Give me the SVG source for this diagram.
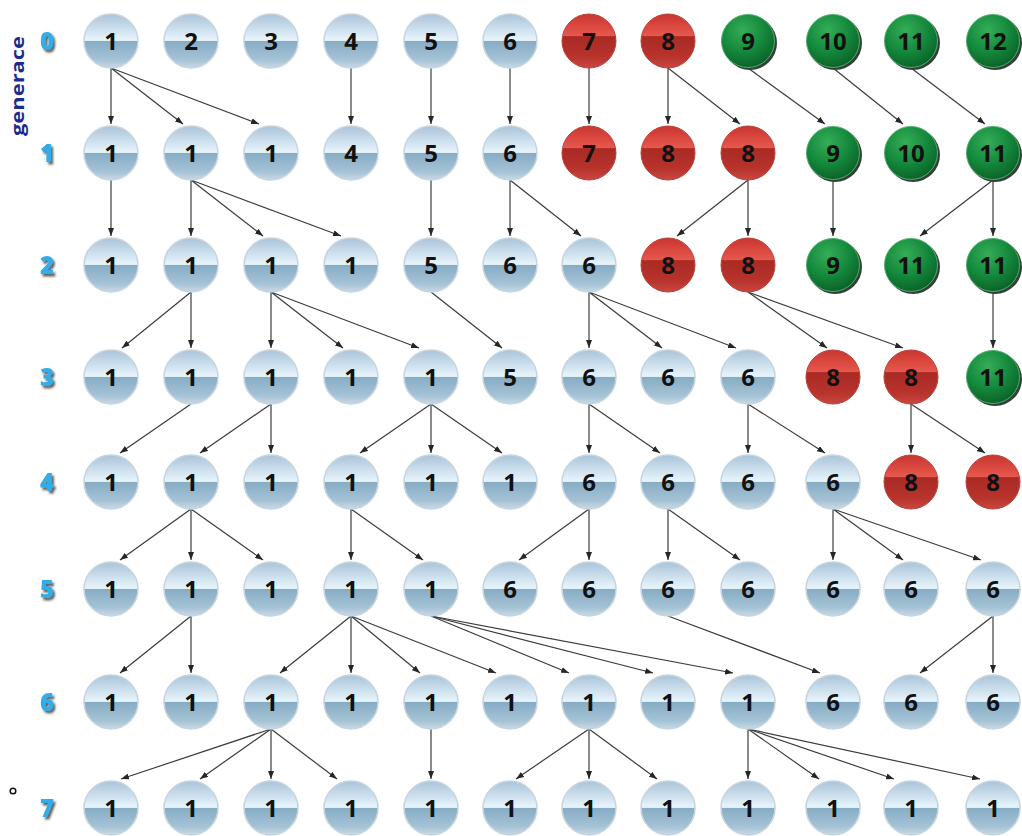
<svg xmlns="http://www.w3.org/2000/svg" width="1022" height="836" viewBox="0 0 1022 836">
<defs>
<linearGradient id="gb" x1="0" y1="0" x2="0" y2="1">
<stop offset="0" stop-color="#a9c3d7"/><stop offset="0.2" stop-color="#c3d8e8"/><stop offset="0.47" stop-color="#e6f3fb"/><stop offset="0.5" stop-color="#dcecf6"/><stop offset="0.5" stop-color="#86acc4"/><stop offset="0.85" stop-color="#a6c3d6"/><stop offset="1" stop-color="#c9dae6"/>
</linearGradient>
<linearGradient id="gr" x1="0" y1="0" x2="0" y2="1">
<stop offset="0" stop-color="#c7362f"/><stop offset="0.25" stop-color="#dc4a42"/><stop offset="0.4" stop-color="#e6584d"/><stop offset="0.42" stop-color="#a92a24"/><stop offset="0.8" stop-color="#b8342d"/><stop offset="1" stop-color="#c84840"/>
</linearGradient>
<radialGradient id="gg" cx="0.4" cy="0.3" r="0.75">
<stop offset="0" stop-color="#35ad58"/><stop offset="0.55" stop-color="#14883c"/><stop offset="1" stop-color="#0a5e27"/>
</radialGradient>
<filter id="sh" x="-30%" y="-30%" width="170%" height="170%"><feDropShadow dx="2" dy="2.5" stdDeviation="1.2" flood-color="#2a2a2a" flood-opacity="0.75"/></filter>
<marker id="ah" viewBox="0 0 8 6" refX="8" refY="3" markerWidth="8" markerHeight="6" orient="auto" markerUnits="userSpaceOnUse"><path d="M0,0 L8,3 L0,6 z" fill="#262626"/></marker>
</defs>
<style>
.b{fill:url(#gb);stroke:#c6d4de;stroke-width:1.5}
.r{fill:url(#gr);stroke:#b8423b;stroke-width:1}
.g{fill:url(#gg);stroke:#4fae6c;stroke-width:1}
.gs{fill:#33403a}
.t{font-family:"Open Sans","Liberation Sans",sans-serif;font-weight:700;font-size:24px;text-anchor:middle;fill:#111}
.lab{font-family:"Open Sans","Liberation Sans",sans-serif;font-weight:800;font-size:24px;text-anchor:middle;fill:#32ade6;filter:url(#sh)}
.e line{stroke:#3c3c3c;stroke-width:1.2;marker-end:url(#ah)}
</style>
<rect width="1022" height="836" fill="#ffffff"/>
<text x="24" y="86" transform="rotate(-90 24 86)" font-family="'Open Sans','Liberation Sans',sans-serif" font-weight="700" font-size="17" fill="#1f2a8c" text-anchor="middle" textLength="100" lengthAdjust="spacingAndGlyphs">generace</text>
<circle cx="13" cy="791" r="2.8" fill="none" stroke="#111" stroke-width="1.5"/>
<g id="labels">
<text class="lab" x="47" y="50">0</text>
<text class="lab" x="47" y="162">1</text>
<text class="lab" x="47" y="274">2</text>
<text class="lab" x="47" y="386">3</text>
<text class="lab" x="47" y="491">4</text>
<text class="lab" x="47" y="598">5</text>
<text class="lab" x="47" y="711">6</text>
<text class="lab" x="47" y="817">7</text>
</g>
<g id="connectors" class="e">
<line x1="111" y1="68" x2="111" y2="124"/><line x1="111" y1="68" x2="183" y2="124"/><line x1="111" y1="68" x2="259" y2="124"/>
<line x1="351" y1="68" x2="351" y2="124"/><line x1="431" y1="68" x2="431" y2="124"/><line x1="510" y1="68" x2="510" y2="124"/>
<line x1="589" y1="68" x2="589" y2="124"/><line x1="668" y1="68" x2="668" y2="124"/><line x1="668" y1="68" x2="740" y2="124"/>
<line x1="748" y1="68" x2="825" y2="124"/><line x1="833" y1="68" x2="903" y2="124"/><line x1="911" y1="68" x2="985" y2="124"/>
<line x1="111" y1="180" x2="111" y2="236"/><line x1="191" y1="180" x2="191" y2="236"/><line x1="191" y1="180" x2="263" y2="236"/><line x1="191" y1="180" x2="341" y2="236"/>
<line x1="431" y1="180" x2="431" y2="236"/><line x1="510" y1="180" x2="510" y2="236"/><line x1="510" y1="180" x2="581" y2="236"/>
<line x1="748" y1="180" x2="677" y2="236"/><line x1="748" y1="180" x2="748" y2="236"/><line x1="833" y1="180" x2="833" y2="236"/>
<line x1="993" y1="180" x2="920" y2="236"/><line x1="993" y1="180" x2="993" y2="236"/>
<line x1="191" y1="292" x2="122" y2="348"/><line x1="191" y1="292" x2="191" y2="348"/>
<line x1="271" y1="292" x2="271" y2="348"/><line x1="271" y1="292" x2="343" y2="348"/><line x1="271" y1="292" x2="419" y2="348"/>
<line x1="431" y1="292" x2="502" y2="348"/>
<line x1="589" y1="292" x2="589" y2="348"/><line x1="589" y1="292" x2="662" y2="348"/><line x1="589" y1="292" x2="736" y2="348"/>
<line x1="748" y1="292" x2="827" y2="348"/><line x1="748" y1="292" x2="903" y2="348"/><line x1="993" y1="292" x2="993" y2="348"/>
<line x1="191" y1="404" x2="120" y2="453"/><line x1="271" y1="404" x2="200" y2="453"/><line x1="271" y1="404" x2="271" y2="453"/>
<line x1="431" y1="404" x2="360" y2="453"/><line x1="431" y1="404" x2="431" y2="453"/><line x1="431" y1="404" x2="502" y2="453"/>
<line x1="589" y1="404" x2="589" y2="453"/><line x1="589" y1="404" x2="660" y2="453"/>
<line x1="748" y1="404" x2="748" y2="453"/><line x1="748" y1="404" x2="825" y2="453"/>
<line x1="911" y1="404" x2="911" y2="453"/><line x1="911" y1="404" x2="985" y2="453"/>
<line x1="191" y1="509" x2="120" y2="560"/><line x1="191" y1="509" x2="191" y2="560"/><line x1="191" y1="509" x2="263" y2="560"/>
<line x1="351" y1="509" x2="351" y2="560"/><line x1="351" y1="509" x2="423" y2="560"/>
<line x1="589" y1="509" x2="519" y2="560"/><line x1="589" y1="509" x2="589" y2="560"/>
<line x1="668" y1="509" x2="668" y2="560"/><line x1="668" y1="509" x2="740" y2="560"/>
<line x1="833" y1="509" x2="833" y2="560"/><line x1="833" y1="509" x2="903" y2="560"/><line x1="833" y1="509" x2="981" y2="560"/>
<line x1="191" y1="616" x2="120" y2="673"/><line x1="191" y1="616" x2="191" y2="673"/>
<line x1="351" y1="616" x2="280" y2="673"/><line x1="351" y1="616" x2="351" y2="673"/><line x1="351" y1="616" x2="420" y2="673"/><line x1="351" y1="616" x2="496" y2="673"/>
<line x1="431" y1="616" x2="569" y2="673"/><line x1="431" y1="616" x2="653" y2="673"/><line x1="431" y1="616" x2="733" y2="673"/>
<line x1="668" y1="616" x2="820" y2="673"/>
<line x1="993" y1="616" x2="920" y2="673"/><line x1="993" y1="616" x2="993" y2="673"/>
<line x1="271" y1="729" x2="121" y2="779"/><line x1="271" y1="729" x2="200" y2="779"/><line x1="271" y1="729" x2="271" y2="779"/><line x1="271" y1="729" x2="337" y2="779"/>
<line x1="431" y1="729" x2="431" y2="779"/>
<line x1="589" y1="729" x2="516" y2="779"/><line x1="589" y1="729" x2="589" y2="779"/><line x1="589" y1="729" x2="657" y2="779"/>
<line x1="748" y1="729" x2="748" y2="779"/><line x1="748" y1="729" x2="819" y2="779"/><line x1="748" y1="729" x2="894" y2="779"/><line x1="748" y1="729" x2="980" y2="779"/>
</g>
<g id="nodes">
<g id="n0_0" transform="translate(111,41)"><circle class="b" r="27"/><text class="t" y="8.5">1</text></g>
<g id="n0_1" transform="translate(191,41)"><circle class="b" r="27"/><text class="t" y="8.5">2</text></g>
<g id="n0_2" transform="translate(271,41)"><circle class="b" r="27"/><text class="t" y="8.5">3</text></g>
<g id="n0_3" transform="translate(351,41)"><circle class="b" r="27"/><text class="t" y="8.5">4</text></g>
<g id="n0_4" transform="translate(431,41)"><circle class="b" r="27"/><text class="t" y="8.5">5</text></g>
<g id="n0_5" transform="translate(510,41)"><circle class="b" r="27"/><text class="t" y="8.5">6</text></g>
<g id="n0_6" transform="translate(589,41)"><circle class="r" r="27"/><text class="t" y="8.5">7</text></g>
<g id="n0_7" transform="translate(668,41)"><circle class="r" r="27"/><text class="t" y="8.5">8</text></g>
<g id="n0_8" transform="translate(748,41)"><circle class="gs" cx="2" cy="2" r="27"/><circle class="g" r="26.5"/><text class="t" y="8.5">9</text></g>
<g id="n0_9" transform="translate(833,41)"><circle class="gs" cx="2" cy="2" r="27"/><circle class="g" r="26.5"/><text class="t" y="8.5">10</text></g>
<g id="n0_10" transform="translate(911,41)"><circle class="gs" cx="2" cy="2" r="27"/><circle class="g" r="26.5"/><text class="t" y="8.5">11</text></g>
<g id="n0_11" transform="translate(993,41)"><circle class="gs" cx="2" cy="2" r="27"/><circle class="g" r="26.5"/><text class="t" y="8.5">12</text></g>

<g id="n1_0" transform="translate(111,153)"><circle class="b" r="27"/><text class="t" y="8.5">1</text></g>
<g id="n1_1" transform="translate(191,153)"><circle class="b" r="27"/><text class="t" y="8.5">1</text></g>
<g id="n1_2" transform="translate(271,153)"><circle class="b" r="27"/><text class="t" y="8.5">1</text></g>
<g id="n1_3" transform="translate(351,153)"><circle class="b" r="27"/><text class="t" y="8.5">4</text></g>
<g id="n1_4" transform="translate(431,153)"><circle class="b" r="27"/><text class="t" y="8.5">5</text></g>
<g id="n1_5" transform="translate(510,153)"><circle class="b" r="27"/><text class="t" y="8.5">6</text></g>
<g id="n1_6" transform="translate(589,153)"><circle class="r" r="27"/><text class="t" y="8.5">7</text></g>
<g id="n1_7" transform="translate(668,153)"><circle class="r" r="27"/><text class="t" y="8.5">8</text></g>
<g id="n1_8" transform="translate(748,153)"><circle class="r" r="27"/><text class="t" y="8.5">8</text></g>
<g id="n1_9" transform="translate(833,153)"><circle class="gs" cx="2" cy="2" r="27"/><circle class="g" r="26.5"/><text class="t" y="8.5">9</text></g>
<g id="n1_10" transform="translate(911,153)"><circle class="gs" cx="2" cy="2" r="27"/><circle class="g" r="26.5"/><text class="t" y="8.5">10</text></g>
<g id="n1_11" transform="translate(993,153)"><circle class="gs" cx="2" cy="2" r="27"/><circle class="g" r="26.5"/><text class="t" y="8.5">11</text></g>

<g id="n2_0" transform="translate(111,265)"><circle class="b" r="27"/><text class="t" y="8.5">1</text></g>
<g id="n2_1" transform="translate(191,265)"><circle class="b" r="27"/><text class="t" y="8.5">1</text></g>
<g id="n2_2" transform="translate(271,265)"><circle class="b" r="27"/><text class="t" y="8.5">1</text></g>
<g id="n2_3" transform="translate(351,265)"><circle class="b" r="27"/><text class="t" y="8.5">1</text></g>
<g id="n2_4" transform="translate(431,265)"><circle class="b" r="27"/><text class="t" y="8.5">5</text></g>
<g id="n2_5" transform="translate(510,265)"><circle class="b" r="27"/><text class="t" y="8.5">6</text></g>
<g id="n2_6" transform="translate(589,265)"><circle class="b" r="27"/><text class="t" y="8.5">6</text></g>
<g id="n2_7" transform="translate(668,265)"><circle class="r" r="27"/><text class="t" y="8.5">8</text></g>
<g id="n2_8" transform="translate(748,265)"><circle class="r" r="27"/><text class="t" y="8.5">8</text></g>
<g id="n2_9" transform="translate(833,265)"><circle class="gs" cx="2" cy="2" r="27"/><circle class="g" r="26.5"/><text class="t" y="8.5">9</text></g>
<g id="n2_10" transform="translate(911,265)"><circle class="gs" cx="2" cy="2" r="27"/><circle class="g" r="26.5"/><text class="t" y="8.5">11</text></g>
<g id="n2_11" transform="translate(993,265)"><circle class="gs" cx="2" cy="2" r="27"/><circle class="g" r="26.5"/><text class="t" y="8.5">11</text></g>

<g id="n3_0" transform="translate(111,377)"><circle class="b" r="27"/><text class="t" y="8.5">1</text></g>
<g id="n3_1" transform="translate(191,377)"><circle class="b" r="27"/><text class="t" y="8.5">1</text></g>
<g id="n3_2" transform="translate(271,377)"><circle class="b" r="27"/><text class="t" y="8.5">1</text></g>
<g id="n3_3" transform="translate(351,377)"><circle class="b" r="27"/><text class="t" y="8.5">1</text></g>
<g id="n3_4" transform="translate(431,377)"><circle class="b" r="27"/><text class="t" y="8.5">1</text></g>
<g id="n3_5" transform="translate(510,377)"><circle class="b" r="27"/><text class="t" y="8.5">5</text></g>
<g id="n3_6" transform="translate(589,377)"><circle class="b" r="27"/><text class="t" y="8.5">6</text></g>
<g id="n3_7" transform="translate(668,377)"><circle class="b" r="27"/><text class="t" y="8.5">6</text></g>
<g id="n3_8" transform="translate(748,377)"><circle class="b" r="27"/><text class="t" y="8.5">6</text></g>
<g id="n3_9" transform="translate(833,377)"><circle class="r" r="27"/><text class="t" y="8.5">8</text></g>
<g id="n3_10" transform="translate(911,377)"><circle class="r" r="27"/><text class="t" y="8.5">8</text></g>
<g id="n3_11" transform="translate(993,377)"><circle class="gs" cx="2" cy="2" r="27"/><circle class="g" r="26.5"/><text class="t" y="8.5">11</text></g>

<g id="n4_0" transform="translate(111,482)"><circle class="b" r="27"/><text class="t" y="8.5">1</text></g>
<g id="n4_1" transform="translate(191,482)"><circle class="b" r="27"/><text class="t" y="8.5">1</text></g>
<g id="n4_2" transform="translate(271,482)"><circle class="b" r="27"/><text class="t" y="8.5">1</text></g>
<g id="n4_3" transform="translate(351,482)"><circle class="b" r="27"/><text class="t" y="8.5">1</text></g>
<g id="n4_4" transform="translate(431,482)"><circle class="b" r="27"/><text class="t" y="8.5">1</text></g>
<g id="n4_5" transform="translate(510,482)"><circle class="b" r="27"/><text class="t" y="8.5">1</text></g>
<g id="n4_6" transform="translate(589,482)"><circle class="b" r="27"/><text class="t" y="8.5">6</text></g>
<g id="n4_7" transform="translate(668,482)"><circle class="b" r="27"/><text class="t" y="8.5">6</text></g>
<g id="n4_8" transform="translate(748,482)"><circle class="b" r="27"/><text class="t" y="8.5">6</text></g>
<g id="n4_9" transform="translate(833,482)"><circle class="b" r="27"/><text class="t" y="8.5">6</text></g>
<g id="n4_10" transform="translate(911,482)"><circle class="r" r="27"/><text class="t" y="8.5">8</text></g>
<g id="n4_11" transform="translate(993,482)"><circle class="r" r="27"/><text class="t" y="8.5">8</text></g>

<g id="n5_0" transform="translate(111,589)"><circle class="b" r="27"/><text class="t" y="8.5">1</text></g>
<g id="n5_1" transform="translate(191,589)"><circle class="b" r="27"/><text class="t" y="8.5">1</text></g>
<g id="n5_2" transform="translate(271,589)"><circle class="b" r="27"/><text class="t" y="8.5">1</text></g>
<g id="n5_3" transform="translate(351,589)"><circle class="b" r="27"/><text class="t" y="8.5">1</text></g>
<g id="n5_4" transform="translate(431,589)"><circle class="b" r="27"/><text class="t" y="8.5">1</text></g>
<g id="n5_5" transform="translate(510,589)"><circle class="b" r="27"/><text class="t" y="8.5">6</text></g>
<g id="n5_6" transform="translate(589,589)"><circle class="b" r="27"/><text class="t" y="8.5">6</text></g>
<g id="n5_7" transform="translate(668,589)"><circle class="b" r="27"/><text class="t" y="8.5">6</text></g>
<g id="n5_8" transform="translate(748,589)"><circle class="b" r="27"/><text class="t" y="8.5">6</text></g>
<g id="n5_9" transform="translate(833,589)"><circle class="b" r="27"/><text class="t" y="8.5">6</text></g>
<g id="n5_10" transform="translate(911,589)"><circle class="b" r="27"/><text class="t" y="8.5">6</text></g>
<g id="n5_11" transform="translate(993,589)"><circle class="b" r="27"/><text class="t" y="8.5">6</text></g>

<g id="n6_0" transform="translate(111,702)"><circle class="b" r="27"/><text class="t" y="8.5">1</text></g>
<g id="n6_1" transform="translate(191,702)"><circle class="b" r="27"/><text class="t" y="8.5">1</text></g>
<g id="n6_2" transform="translate(271,702)"><circle class="b" r="27"/><text class="t" y="8.5">1</text></g>
<g id="n6_3" transform="translate(351,702)"><circle class="b" r="27"/><text class="t" y="8.5">1</text></g>
<g id="n6_4" transform="translate(431,702)"><circle class="b" r="27"/><text class="t" y="8.5">1</text></g>
<g id="n6_5" transform="translate(510,702)"><circle class="b" r="27"/><text class="t" y="8.5">1</text></g>
<g id="n6_6" transform="translate(589,702)"><circle class="b" r="27"/><text class="t" y="8.5">1</text></g>
<g id="n6_7" transform="translate(668,702)"><circle class="b" r="27"/><text class="t" y="8.5">1</text></g>
<g id="n6_8" transform="translate(748,702)"><circle class="b" r="27"/><text class="t" y="8.5">1</text></g>
<g id="n6_9" transform="translate(833,702)"><circle class="b" r="27"/><text class="t" y="8.5">6</text></g>
<g id="n6_10" transform="translate(911,702)"><circle class="b" r="27"/><text class="t" y="8.5">6</text></g>
<g id="n6_11" transform="translate(993,702)"><circle class="b" r="27"/><text class="t" y="8.5">6</text></g>

<g id="n7_0" transform="translate(111,808)"><circle class="b" r="27"/><text class="t" y="8.5">1</text></g>
<g id="n7_1" transform="translate(191,808)"><circle class="b" r="27"/><text class="t" y="8.5">1</text></g>
<g id="n7_2" transform="translate(271,808)"><circle class="b" r="27"/><text class="t" y="8.5">1</text></g>
<g id="n7_3" transform="translate(351,808)"><circle class="b" r="27"/><text class="t" y="8.5">1</text></g>
<g id="n7_4" transform="translate(431,808)"><circle class="b" r="27"/><text class="t" y="8.5">1</text></g>
<g id="n7_5" transform="translate(510,808)"><circle class="b" r="27"/><text class="t" y="8.5">1</text></g>
<g id="n7_6" transform="translate(589,808)"><circle class="b" r="27"/><text class="t" y="8.5">1</text></g>
<g id="n7_7" transform="translate(668,808)"><circle class="b" r="27"/><text class="t" y="8.5">1</text></g>
<g id="n7_8" transform="translate(748,808)"><circle class="b" r="27"/><text class="t" y="8.5">1</text></g>
<g id="n7_9" transform="translate(833,808)"><circle class="b" r="27"/><text class="t" y="8.5">1</text></g>
<g id="n7_10" transform="translate(911,808)"><circle class="b" r="27"/><text class="t" y="8.5">1</text></g>
<g id="n7_11" transform="translate(993,808)"><circle class="b" r="27"/><text class="t" y="8.5">1</text></g>
</g>
</svg>
